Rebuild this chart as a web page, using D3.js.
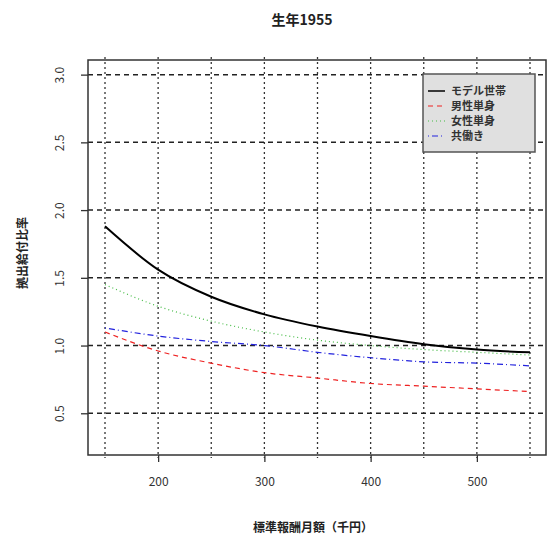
<!DOCTYPE html>
<html>
<head>
<meta charset="utf-8">
<script src="https://cdn.jsdelivr.net/npm/d3@7"></script>
<style>
  body { margin: 0; background: #fff; }
  text { font-family: "Noto Sans CJK JP", "DejaVu Sans", sans-serif; }
</style>
</head>
<body>
<div id="chart"></div>
<script>
// data
const salary = [150, 200, 250, 300, 350, 400, 450, 500, 550];
const model  = [1.88, 1.56, 1.36, 1.23, 1.14, 1.07, 1.01, 0.97, 0.95];
const male   = [1.10, 0.96, 0.87, 0.80, 0.76, 0.72, 0.70, 0.68, 0.66];
const female = [1.45, 1.29, 1.18, 1.10, 1.04, 1.00, 0.97, 0.95, 0.93];
const dual   = [1.13, 1.07, 1.03, 1.00, 0.95, 0.91, 0.88, 0.87, 0.85];
const seriesNames = ["モデル世帯", "男性単身", "女性単身", "共働き"];
const xTicks = [200, 300, 400, 500];
const xGrid = [150, 200, 250, 300, 350, 400, 450, 500, 550];
const yTicks = [0.5, 1.0, 1.5, 2.0, 2.5, 3.0];

const W = 547, H = 540;
const box = {left: 88, right: 547, top: 60, bottom: 455};

const svg = d3.select("#chart").append("svg")
  .attr("width", W).attr("height", H);

const x = d3.scaleLinear().domain([134, 566]).range([box.left, box.right]);
const y = d3.scaleLinear().domain([0.192, 3.108]).range([box.bottom, box.top]);

// grid
svg.append("g").selectAll("line").data(xGrid).join("line")
  .attr("x1", d => x(d)).attr("x2", d => x(d))
  .attr("y1", box.top - 3).attr("y2", box.bottom + 3)
  .attr("stroke", "#333").attr("stroke-width", 1.3)
  .attr("stroke-dasharray", "2,3");
svg.append("g").selectAll("line").data(yTicks).join("line")
  .attr("x1", box.left).attr("x2", box.right)
  .attr("y1", d => y(d)).attr("y2", d => y(d))
  .attr("stroke", "#222").attr("stroke-width", 1.5)
  .attr("stroke-dasharray", "5,4");

// series
const series = [
  {vals: model,  color: "#000",    dash: null,      width: 2},
  {vals: male,   color: "#ee2222", dash: "5,4",     width: 1.2},
  {vals: female, color: "#44bb44", dash: "1,3",     width: 1.2},
  {vals: dual,   color: "#2222dd", dash: "1,3,6,3", width: 1.2}
];
const line = d3.line().x((d, i) => x(salary[i])).y(d => y(d)).curve(d3.curveMonotoneX);
svg.append("g").selectAll("path").data(series).join("path")
  .attr("d", d => line(d.vals))
  .attr("fill", "none")
  .attr("stroke", d => d.color)
  .attr("stroke-width", d => d.width)
  .attr("stroke-dasharray", d => d.dash);

// box
svg.append("rect")
  .attr("x", box.left).attr("y", box.top)
  .attr("width", box.right - box.left - 1).attr("height", box.bottom - box.top)
  .attr("fill", "none").attr("stroke", "#333").attr("stroke-width", 1.5);

// axes
const xAxis = svg.append("g").attr("transform", `translate(0,${box.bottom})`)
  .call(d3.axisBottom(x).tickValues(xTicks).tickSize(7).tickPadding(15).tickFormat(d3.format("d")));
xAxis.select(".domain").remove();
xAxis.selectAll("line").attr("stroke", "#333").attr("stroke-width", 1.3);
xAxis.selectAll("text").attr("font-size", 12).attr("fill", "#333");

const yAxis = svg.append("g").attr("transform", `translate(${box.left},0)`)
  .call(d3.axisLeft(y).tickValues(yTicks).tickSize(7).tickFormat(d3.format(".1f")));
yAxis.select(".domain").remove();
yAxis.selectAll("line").attr("stroke", "#333").attr("stroke-width", 1.3);
yAxis.selectAll("text")
  .attr("font-size", 12).attr("fill", "#333")
  .attr("text-anchor", "middle")
  .attr("x", 0).attr("dy", null)
  .attr("transform", "translate(-30,0) rotate(-90)")
  .attr("y", 0).attr("dominant-baseline", "central");

// titles
svg.append("text").attr("x", 302).attr("y", 25)
  .attr("text-anchor", "middle").attr("font-size", 14).attr("font-weight", "bold")
  .attr("fill", "#222").text("生年1955");
svg.append("text").attr("x", 313).attr("y", 532)
  .attr("text-anchor", "middle").attr("font-size", 12).attr("font-weight", "bold")
  .attr("fill", "#222").text("標準報酬月額（千円）");
svg.append("text").attr("transform", "translate(27,253) rotate(-90)")
  .attr("text-anchor", "middle").attr("font-size", 12).attr("font-weight", "bold")
  .attr("fill", "#222").text("拠出給付比率");

// legend
const leg = svg.append("g").attr("transform", "translate(423,74)");
leg.append("rect").attr("width", 112).attr("height", 78)
  .attr("fill", "#e0e0e0").attr("stroke", "#555").attr("stroke-width", 1.5);
const rows = leg.selectAll("g").data(series).join("g")
  .attr("transform", (d, i) => `translate(0,${17 + i * 15})`);
rows.append("line").attr("x1", 5).attr("x2", 22)
  .attr("stroke", d => d.color).attr("stroke-width", d => d.width === 2 ? 1.5 : 1.2)
  .attr("stroke-dasharray", d => d.dash);
rows.append("text").attr("x", 28).attr("dy", "0.35em")
  .attr("font-size", 11).attr("font-weight", "bold").attr("fill", "#333")
  .text((d, i) => seriesNames[i]);
</script>
</body>
</html>
